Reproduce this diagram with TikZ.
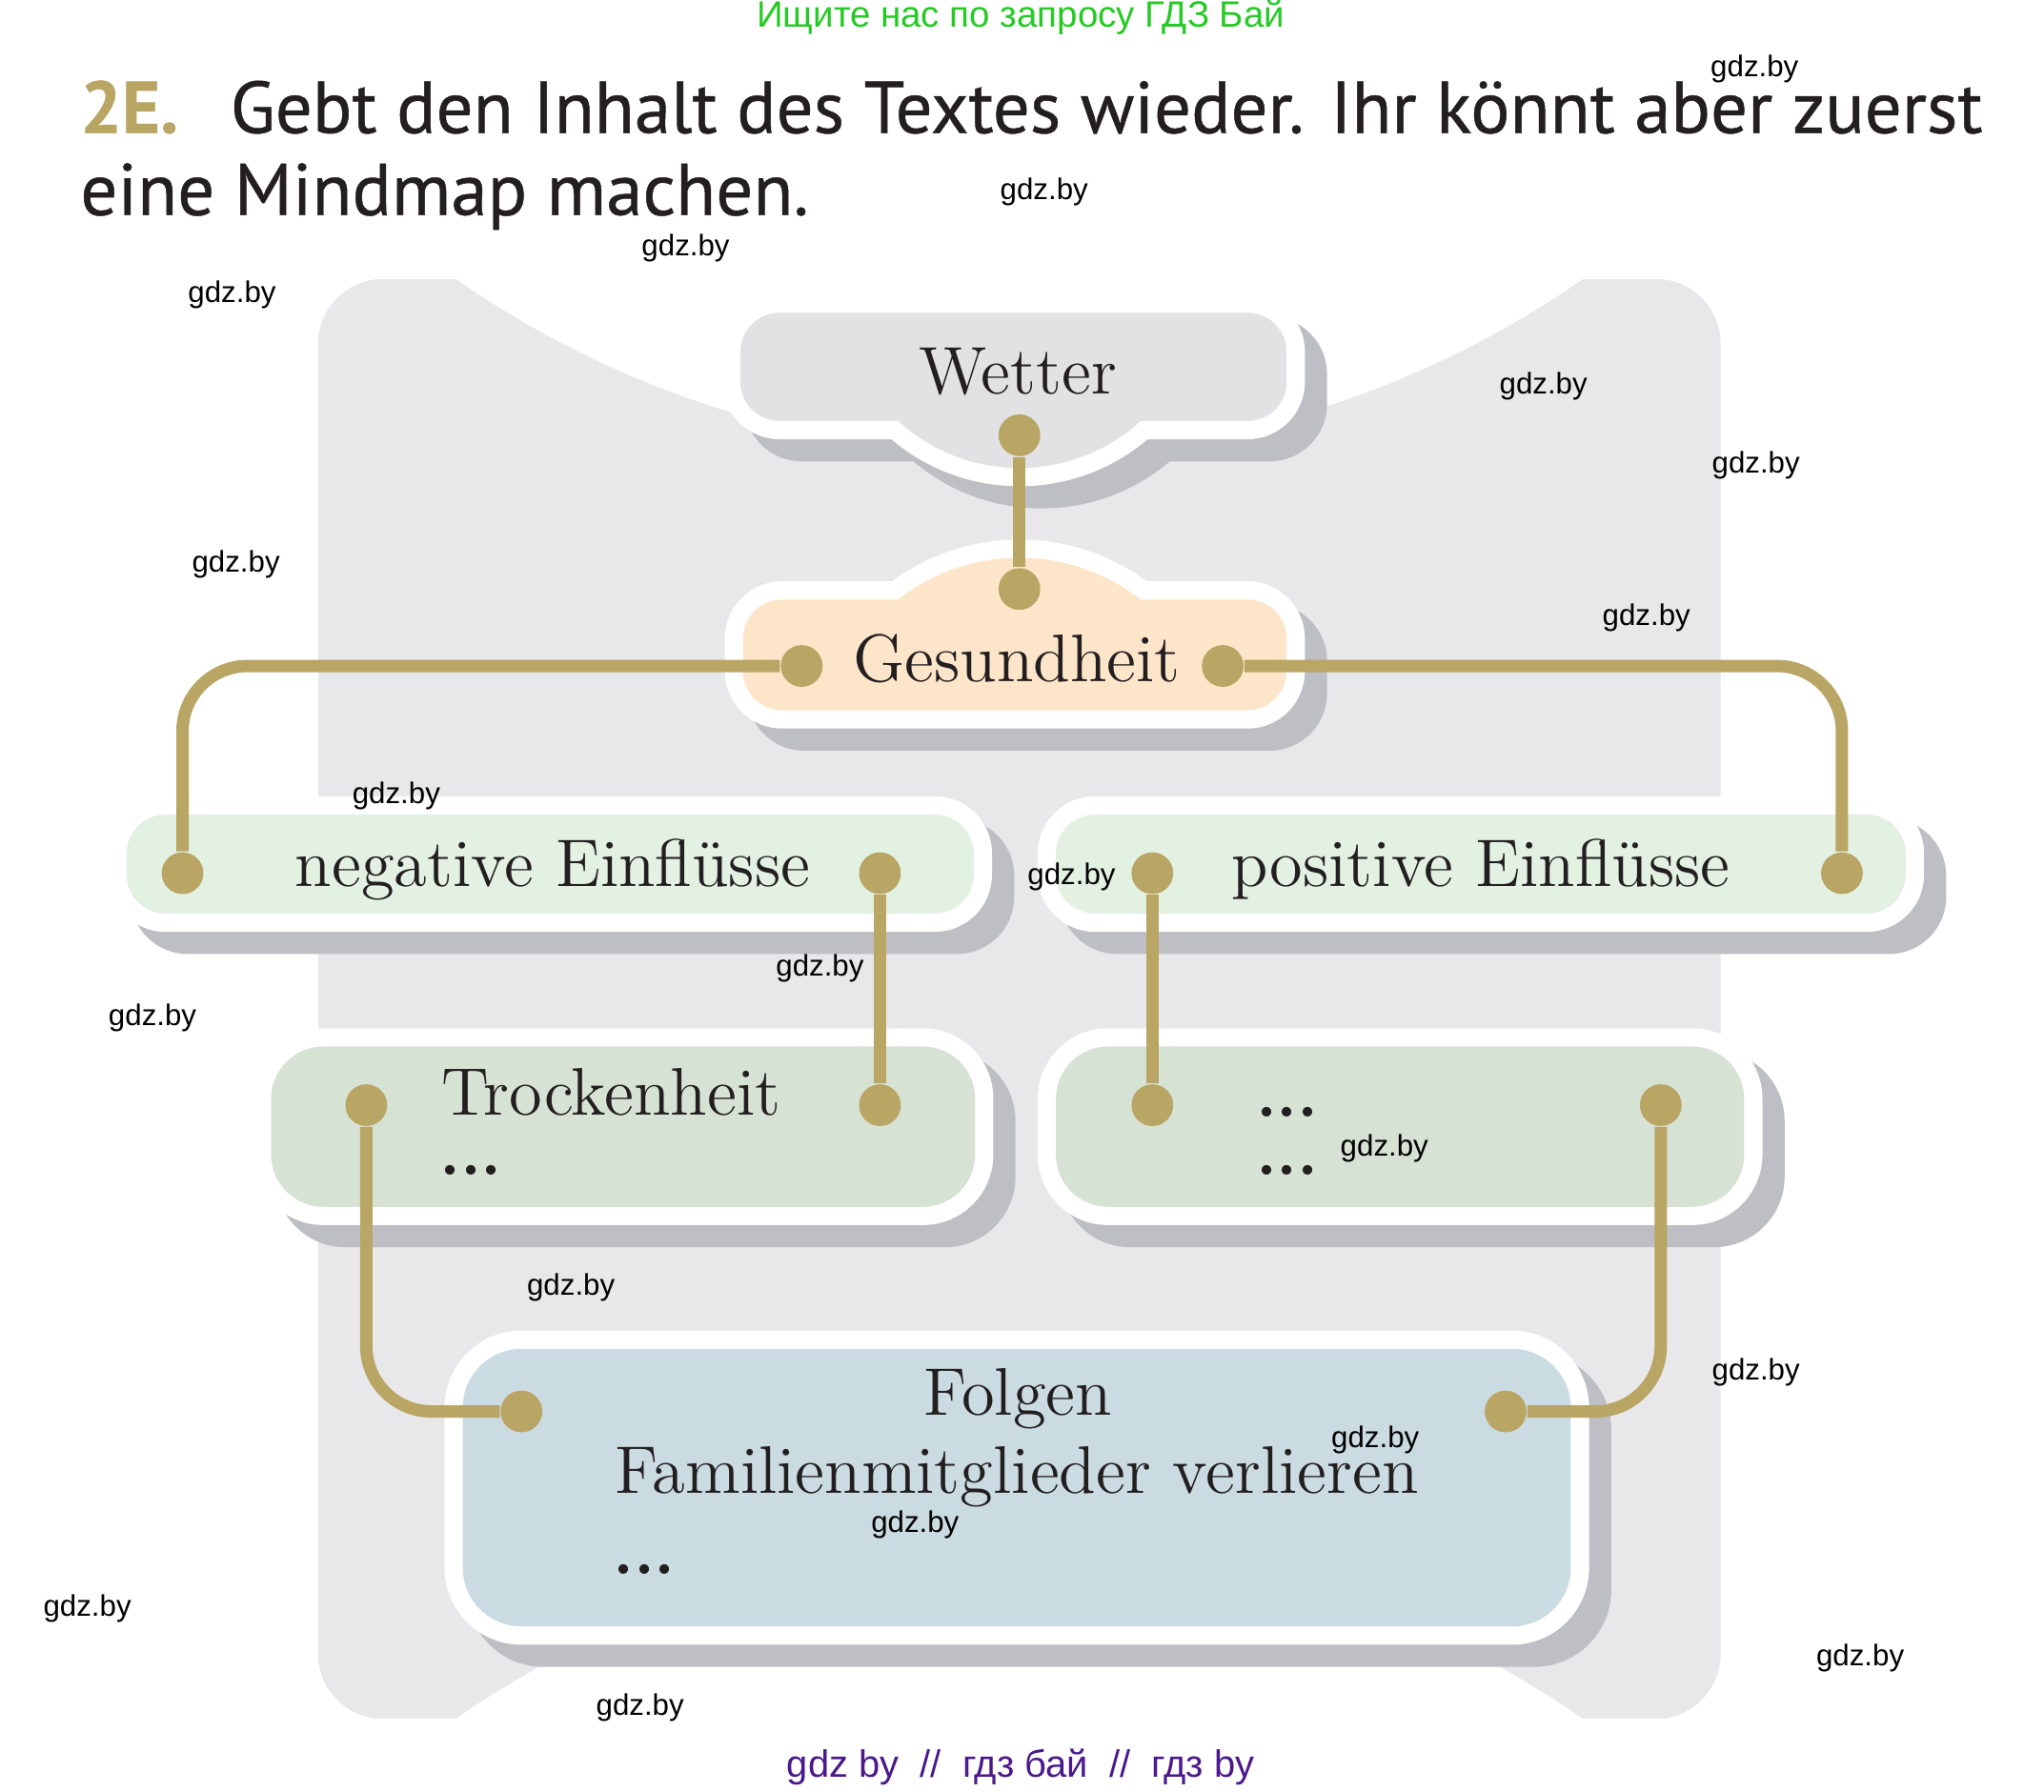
\documentclass[tikz,border=0pt]{standalone}
\usepackage{fontspec}
\newfontfamily\headfont[FakeBold=0.6]{PT Sans}
\newfontfamily\markfont{Liberation Sans}
\definecolor{mmgold}{RGB}{185,165,100}
\definecolor{mmink}{RGB}{35,31,32}
\definecolor{mmpanel}{RGB}{232,232,234}
\definecolor{mmshade}{RGB}{190,191,196}
\definecolor{mmcloud}{RGB}{226,226,228}
\definecolor{mmpeach}{RGB}{253,229,201}
\definecolor{mmmint}{RGB}{227,241,227}
\definecolor{mmsage}{RGB}{214,226,211}
\definecolor{mmsky}{RGB}{203,219,226}
\definecolor{mmgreen}{RGB}{38,201,38}
\definecolor{mmviolet}{RGB}{75,25,140}
\newcommand\mmdots{\textbf{.\kern-0.01em.\kern-0.01em.}}
\tikzset{
    mapbox/.style = {
        preaction = {fill=mmshade, draw=mmshade, line width=0.28cm,
            transform canvas={shift={(0.17cm,-0.17cm)}}},
        preaction = {draw=white, line width=0.28cm},
        fill = #1,
        },
    dot/.style = {
        circle,
        fill = mmgold,
        inner sep = 0pt,
        minimum size = 0.32cm,
        },
    link/.style = {
        draw = mmgold,
        line width = 0.095cm,
        rounded corners = 0.5cm,
        },
    boxtext/.style = {
        font = \fontsize{14.7}{18}\selectfont,
        text = mmink,
        inner sep = 0pt,
        },
    headtext/.style = {
        font = \headfont\fontsize{16}{19}\selectfont,
        text = mmink,
        anchor = base west,
        inner sep = 0pt,
        },
    gdzmark/.style = {
        font = \markfont\fontsize{6.5}{8}\selectfont,
        inner sep = 0pt,
        },
}

\begin{document}
\begin{tikzpicture}[x=0.01cm, y=-0.01cm]
            \useasboundingbox (0,0) rectangle (1568,1374.3);
            % panel
            \begin{scope}
                \clip[rounded corners=0.5cm] (244,214) rectangle (1320,1319);
                \fill[mmpanel] (244,214) rectangle (1320,1319);
                \fill[white] (782,-411) circle[radius=760];
                \fill[white] (782,1944) circle[radius=760];
            \end{scope}

            % boxes
            \path[mapbox=mmcloud, rounded corners=0.3cm] (568,240) rectangle (987,323)
                [sharp corners] (689,323) arc[start angle=132.4, end angle=47.6, radius=138] -- cycle;
            \path[mapbox=mmpeach, rounded corners=0.3cm] (570,460) rectangle (987,545)
                [sharp corners] (689,460) arc[start angle=-128, end angle=-52, radius=151] -- cycle;
            \path[mapbox=mmmint, rounded corners=0.3cm] (97,625) rectangle (747,701);
            \path[mapbox=mmmint, rounded corners=0.3cm] (810,625) rectangle (1462,701);
            \path[mapbox=mmsage, rounded corners=0.4cm] (208,803) rectangle (748,926);
            \path[mapbox=mmsage, rounded corners=0.4cm] (810,803) rectangle (1338,926);
            \path[mapbox=mmsky, rounded corners=0.45cm] (355,1035) rectangle (1205,1248);

            \node[headtext, font=\headfont\fontsize{16}{19}\selectfont\bfseries, text=mmgold] (num) at (61,102) {2E.};
            \node[headtext] (task1) at (176,102) {Gebt den Inhalt des Textes wieder. Ihr könnt aber zuerst};
            \node[headtext] (task2) at (61,165) {eine Mindmap machen.};

            \node[boxtext, anchor=base] (wetter) at (781,302) {Wetter};
            \node[boxtext, anchor=base] (gesund) at (780,523) {Gesundheit};
            \node[boxtext, anchor=base] (neg) at (424,680) {negative Einflüsse};
            \node[boxtext, anchor=base] (pos) at (1136,680) {positive Einflüsse};
            \node[boxtext, anchor=base west] (trock) at (338,856) {Trockenheit};
            \node[boxtext, anchor=base west] (trock2) at (337,902) {\mmdots};
            \node[boxtext, anchor=base west] (more1) at (963,857) {\mmdots};
            \node[boxtext, anchor=base west] (more2) at (963,902) {\mmdots};
            \node[boxtext, anchor=base] (folgen) at (781,1086) {Folgen};
            \node[boxtext, anchor=base] (famil) at (780,1146) {Familienmitglieder verlieren};
            \node[boxtext, anchor=base west] (folgen2) at (470,1208) {\mmdots};

            \node[dot] (w1) at (782,334) {};
            \node[dot] (g0) at (782,452) {};
            \node[dot] (g1) at (615,511) {};
            \node[dot] (g2) at (938,511) {};
            \node[dot] (n1) at (140,670) {};
            \node[dot] (n2) at (675,670) {};
            \node[dot] (p1) at (884,670) {};
            \node[dot] (p2) at (1413,670) {};
            \node[dot] (t1) at (281,848) {};
            \node[dot] (t2) at (675,848) {};
            \node[dot] (m1) at (884,848) {};
            \node[dot] (m2) at (1274,848) {};
            \node[dot] (f1) at (400,1083) {};
            \node[dot] (f2) at (1155,1083) {};

            \path (w1) edge[link] (g0);
            \draw[link] (g1) -| (n1);
            \draw[link] (g2) -| (p2);
            \path (n2) edge[link] (t2);
            \path (p1) edge[link] (m1);
            \draw[link] (t1) |- (f1);
            \draw[link] (m2) |- (f2);

            % watermarks
            \node[gdzmark, font=\markfont\fontsize{8}{10}\selectfont, text=mmgreen] (top) at (783,13) {Ищите нас по запросу ГДЗ Бай};
            \node[gdzmark, font=\markfont\fontsize{8.3}{10}\selectfont, text=mmviolet] (bottom) at (783,1356) {gdz by~~//~~гдз бай~~//~~гдз by};
            \foreach \px/\py [count=\i] in {1346/53, 801/147, 526/190, 178/226, 1184/296,
                1347/357, 181/433, 1263/474, 304/611, 822/673, 629/743, 117/781, 1062/881,
                438/988, 1347/1053, 1055/1105, 702/1170, 67/1234, 1427/1272, 491/1310}
                \node[gdzmark] (gdz\i) at (\px,\py) {gdz.by};
        \end{tikzpicture}
\end{document}
